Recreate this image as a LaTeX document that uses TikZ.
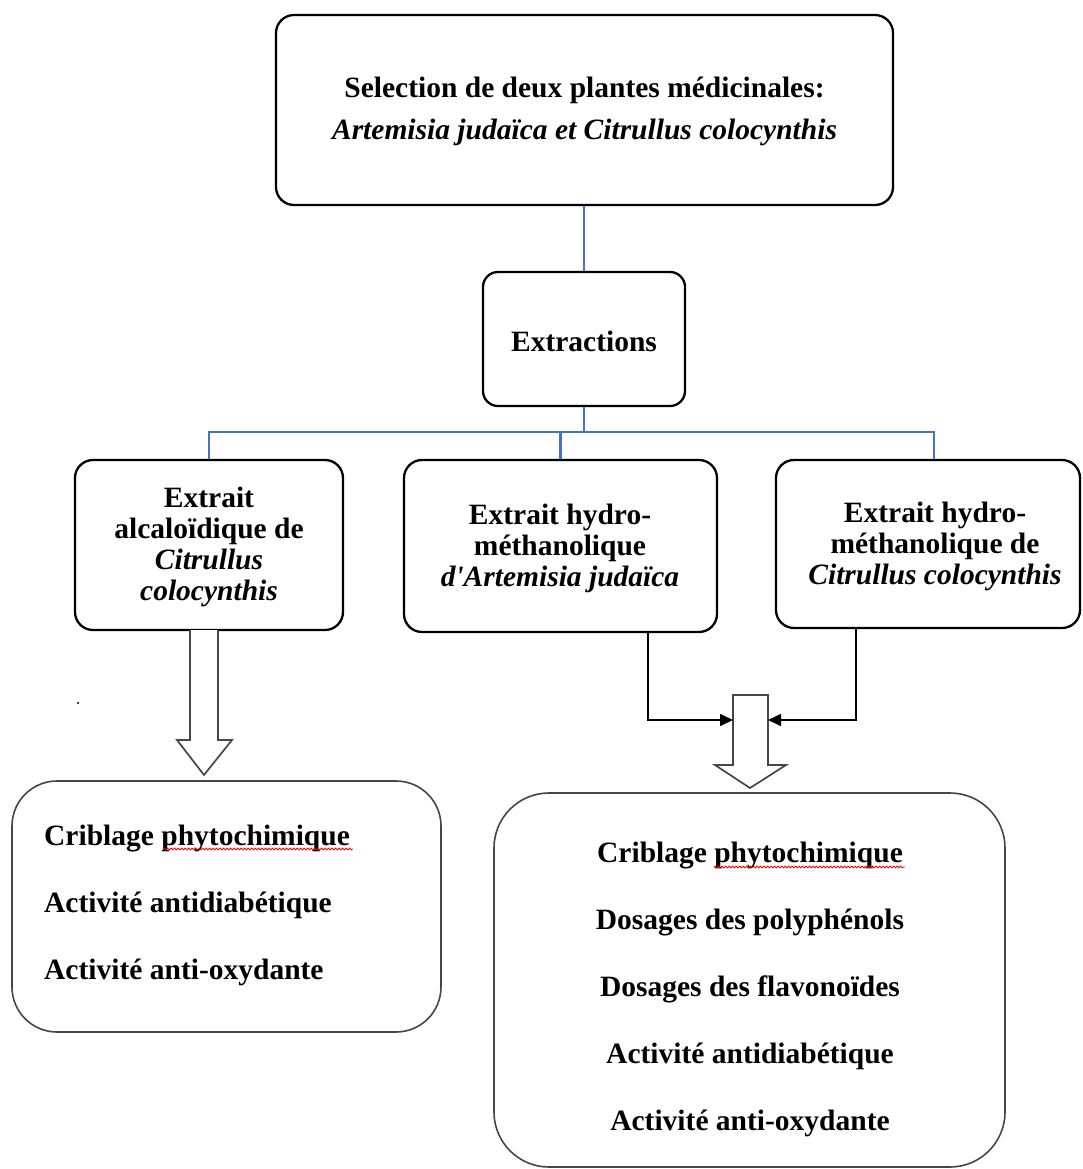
\documentclass[tikz,border=0pt]{standalone}
\usepackage{fontspec}
\setmainfont{Liberation Serif}
\newfontfamily\plainfont[Ligatures=ResetAll]{Liberation Serif}
\usetikzlibrary{arrows.meta,decorations.pathmorphing}
\definecolor{wordblue}{RGB}{68,114,196}
\definecolor{boxgray}{RGB}{70,70,70}
\begin{document}
\begin{tikzpicture}[x=1pt,y=-1pt,
  box/.style={draw=black,line width=2.3pt,rounded corners=18pt,inner sep=0pt},
  bigbox/.style={draw=boxgray,line width=1.6pt,inner sep=0pt},
  txt/.style={font=\fontsize{29.5}{31}\selectfont\bfseries,align=center,inner sep=0pt},
  blueline/.style={draw=wordblue,line width=2.8pt},
  hollow/.style={draw=boxgray,line width=1.7pt,fill=white},
  arr/.style={draw=black,line width=1.6pt,-{Triangle[length=13pt,width=12pt]}},
  squig/.style={draw=red,line width=0.8pt,decorate,decoration={snake,amplitude=0.9pt,segment length=3.5pt}}]
\useasboundingbox (0,0) rectangle (1082,1169);
\fill[white] (0,0) rectangle (1082,1169);

% top box
\node[box,minimum width=617pt,minimum height=190pt] (sel) at (584.5,110) {};
\node[txt,font=\fontsize{29.5}{42}\selectfont\bfseries] (seltxt) at (584.5,111)
  {Selection de deux plantes médicinales:\\ \textit{Artemisia judaïca et Citrullus colocynthis}};

% extractions
\node[box,rounded corners=15pt,minimum width=202pt,minimum height=134pt] (ext) at (584,339) {};
\node[txt] (exttxt) at (584,341) {Extractions};

% extract boxes
\node[box,minimum width=268pt,minimum height=170pt] (e1) at (209,545) {};
\node[txt] (e1t) at (209,547) {Extrait\\alcaloïdique de\\\textit{Citrullus}\\\textit{colocynthis}};
\node[box,minimum width=313pt,minimum height=172pt] (e2) at (560.5,546) {};
\node[txt] (e2t) at (560,548) {Extrait hydro-\\méthanolique\\\textit{d{\plainfont\bfseries\itshape '}Artemisia judaïca}};
\node[box,minimum width=304pt,minimum height=168pt] (e3) at (928,544) {};
\node[txt] (e3t) at (935,546) {Extrait hydro-\\méthanolique de\\\textit{Citrullus colocynthis}};

% blue connectors
\coordinate (j) at (584,432);
\coordinate (xr) at (934,0);
\draw[blueline] (sel.south -| ext.north) -- (ext.north);
\draw[blueline] (ext.south) -- (j);
\draw[blueline] (j) -| (e1.north);
\draw[blueline] (j) -| (e3.north -| xr);
\draw[blueline] (j -| e2.north) -- (e2.north);

% bottom boxes
\node[bigbox,rounded corners=45pt,minimum width=429pt,minimum height=251pt] (b1) at (226.5,906.5) {};
\node[txt,font=\fontsize{29.5}{67}\selectfont\bfseries,align=left,anchor=west] (b1t) at (44,905)
  {Criblage phytochimique\\Activité antidiabétique\\Activité anti-oxydante};
\node[bigbox,rounded corners=55pt,minimum width=511pt,minimum height=374pt] (b2) at (749.5,980) {};
\node[txt,font=\fontsize{29.5}{67}\selectfont\bfseries] (b2t) at (750,989.5)
  {Criblage phytochimique\\Dosages des polyphénols\\Dosages des flavonoïdes\\Activité antidiabétique\\Activité anti-oxydante};

% spell-check squiggles
\draw[squig] (163,849) -- (353,849);
\draw[squig] (714,867) -- (905,867);

% hollow arrows
\draw[hollow] (190,630) -- (190,740) -- (177,740) -- (204,775) -- (232,740) -- (218,740) -- (218,630);
\draw[hollow] (733,695) -- (768,695) -- (768,765) -- (786,765) -- (750,788) -- (715,765) -- (733,765) -- cycle;

% black arrows
\coordinate (xa) at (648,0);
\coordinate (xb) at (856,0);
\coordinate (hl) at (733,720);
\coordinate (hr) at (768,720);
\draw[arr] (e2.south -| xa) |- (hl);
\draw[arr] (e3.south -| xb) |- (hr);

% stray dot
\fill[black] (78,703) circle (1.2pt);
\end{tikzpicture}
\end{document}
